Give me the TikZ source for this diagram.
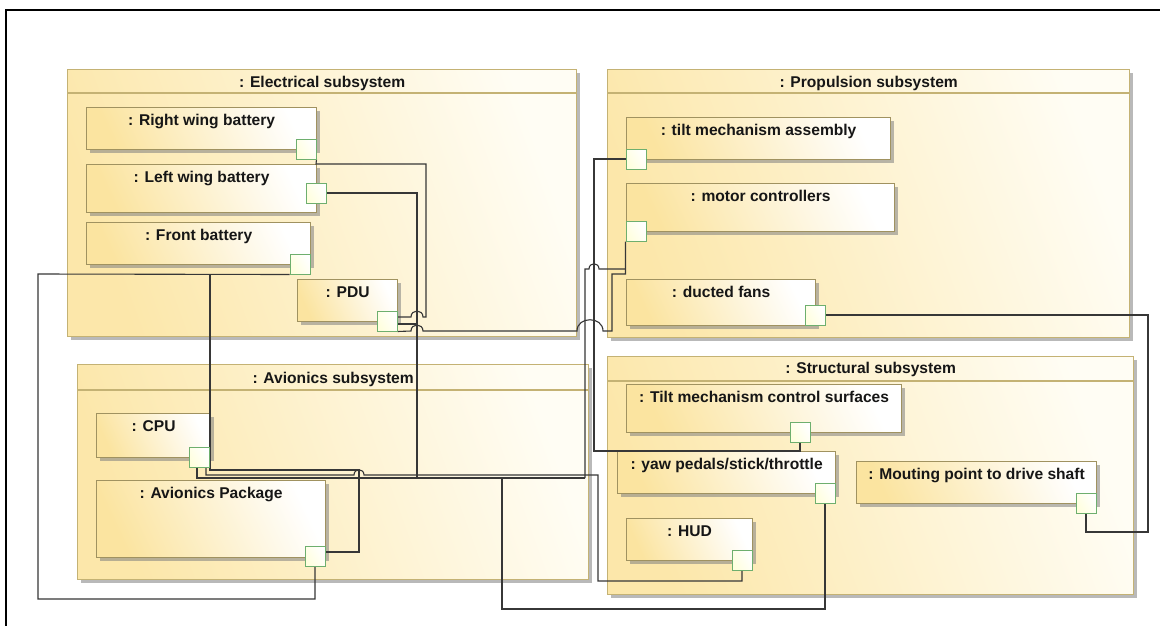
\documentclass[tikz,border=0pt]{standalone}
\usepackage{fontspec}
\setmainfont{Liberation Sans}
\usetikzlibrary{shadows}
\definecolor{subL}{RGB}{252,231,170}
\definecolor{subR}{RGB}{255,253,244}
\definecolor{partL}{RGB}{251,228,160}
\definecolor{partR}{RGB}{255,255,255}
\definecolor{bord}{RGB}{196,178,116}
\definecolor{pbord}{RGB}{160,146,96}
\definecolor{portB}{RGB}{110,175,110}
\definecolor{portF}{RGB}{255,255,222}
\definecolor{wirec}{RGB}{55,55,55}
\definecolor{txtc}{RGB}{22,22,22}
\pgfdeclarelayer{boxes}
\pgfdeclarelayer{wires}
\pgfsetlayers{boxes,wires,main}
\tikzset{
  subbox/.style={rectangle, inner sep=0pt, anchor=north west, draw=bord, line width=1.3pt,
    left color=subL, right color=subR, shading angle=110,
    drop shadow={shadow xshift=3pt, shadow yshift=-3pt, fill=black!50, opacity=0.55}},
  partbox/.style={rectangle, inner sep=0pt, anchor=north west, draw=pbord, line width=1.2pt,
    left color=partL, right color=partR, shading angle=115,
    drop shadow={shadow xshift=3pt, shadow yshift=-3pt, fill=black!50, opacity=0.55}},
  portbox/.style={rectangle, inner sep=0pt, draw=portB, line width=1pt,
    left color=portF, right color=white, shading angle=120, minimum size=20pt},
  wire/.style={draw=wirec, line width=1.1pt},
  lbl/.style={font=\bfseries\fontsize{15.6}{18}\selectfont, text=txtc, anchor=base, inner sep=0pt},
  hdr/.style={draw=bord, line width=1.2pt},
}
\begin{document}
\begin{tikzpicture}[x=1pt,y=-1pt]
\begin{pgfonlayer}{boxes}
\useasboundingbox (0,0) rectangle (1160,625);
\fill[white] (0,0) rectangle (1160,625);
\draw[line width=1.6pt, black] (6,700) -- (6,10) -- (1200,10);

% subsystems
\node[subbox, minimum width=509pt, minimum height=267pt] (elec) at (67,69) {};
\draw[hdr] ([yshift=-24pt]elec.north west) -- ([yshift=-24pt]elec.north east);
\node[lbl] (elect) at ([yshift=-18pt]elec.north) {: Electrical subsystem};

\node[subbox, minimum width=522pt, minimum height=268pt] (prop) at (607,69) {};
\draw[hdr] ([yshift=-24pt]prop.north west) -- ([yshift=-24pt]prop.north east);
\node[lbl] (propt) at ([yshift=-18pt]prop.north) {: Propulsion subsystem};

\node[subbox, minimum width=511pt, minimum height=215pt] (avio) at (77,364) {};
\draw[hdr] ([yshift=-26pt]avio.north west) -- ([yshift=-26pt]avio.north east);
\node[lbl] (aviot) at ([yshift=-19pt]avio.north) {: Avionics subsystem};

\node[subbox, minimum width=526pt, minimum height=238pt] (struc) at (607,356) {};
\draw[hdr] ([yshift=-25pt]struc.north west) -- ([yshift=-25pt]struc.north east);
\node[lbl] (struct) at ([yshift=-17pt]struc.north) {: Structural subsystem};

% parts
\node[partbox, minimum width=230pt, minimum height=42pt] (rwb) at (86,107) {};
\node[lbl] at ([yshift=-18pt]rwb.north) {: Right wing battery};
\node[partbox, minimum width=230pt, minimum height=48pt] (lwb) at (86,164) {};
\node[lbl] at ([yshift=-18pt]lwb.north) {: Left wing battery};
\node[partbox, minimum width=224pt, minimum height=42pt] (fb) at (86,222) {};
\node[lbl] at ([yshift=-18pt]fb.north) {: Front battery};
\node[partbox, minimum width=100pt, minimum height=42pt] (pdu) at (297,279) {};
\node[lbl] at ([yshift=-18pt]pdu.north) {: PDU};

\node[partbox, minimum width=264pt, minimum height=42pt] (tma) at (626,117) {};
\node[lbl] at ([yshift=-18pt]tma.north) {: tilt mechanism assembly};
\node[partbox, minimum width=268pt, minimum height=48pt] (mc) at (626,183) {};
\node[lbl] at ([yshift=-18pt]mc.north) {: motor controllers};
\node[partbox, minimum width=189pt, minimum height=46pt] (df) at (626,279) {};
\node[lbl] at ([yshift=-18pt]df.north) {: ducted fans};

\node[partbox, minimum width=275pt, minimum height=48pt] (tcs) at (626,384) {};
\node[lbl] at ([yshift=-18pt]tcs.north) {: Tilt mechanism control surfaces};
\node[partbox, minimum width=218pt, minimum height=42pt] (yaw) at (617,451) {};
\node[lbl] at ([yshift=-18pt]yaw.north) {: yaw pedals/stick/throttle};
\node[partbox, minimum width=126pt, minimum height=42pt] (hud) at (626,518) {};
\node[lbl] at ([yshift=-18pt]hud.north) {: HUD};
\node[partbox, minimum width=240pt, minimum height=42pt] (mp) at (856,461) {};
\node[lbl] at ([yshift=-18pt]mp.north) {: Mouting point to drive shaft};

\node[partbox, minimum width=114pt, minimum height=44pt] (cpu) at (96,413) {};
\node[lbl] at ([yshift=-18pt]cpu.north) {: CPU};
\node[partbox, minimum width=229pt, minimum height=77pt] (ap) at (96,480) {};
\node[lbl] at ([yshift=-18pt]ap.north) {: Avionics Package};
\end{pgfonlayer}

% ports (main layer, on top of wires)
\node[portbox] (rwbp) at (306,149) {};
\node[portbox] (lwbp) at (316,193) {};
\node[portbox] (fbp) at (300,264) {};
\node[portbox] (pdup) at (387,321) {};
\node[portbox] (tmap) at (636,159) {};
\node[portbox] (mcp) at (636,231) {};
\node[portbox] (dfp) at (815,315) {};
\node[portbox] (tcsp) at (800,432) {};
\node[portbox] (yawp) at (825,493) {};
\node[portbox] (hudp) at (742,560) {};
\node[portbox] (mpp) at (1086,503) {};
\node[portbox] (cpup) at (199,457) {};
\node[portbox] (app) at (315,556) {};

% wires
\begin{pgfonlayer}{wires}
\draw[wire] (rwbp.south east) -- (316,164) -- (426,164) -- (426,317) -- (423,317)
  .. controls (423,309) and (411,309) .. (411,317) -- (pdup.east |- 0,317);
\draw[wire] (lwbp.east) -- (417,193) -- (417,478);
\draw[wire] (pdup.east |- 0,324) -- (417,324);
\draw[wire] (pdup.south east) -- (411,331) .. controls (411,323) and (423,323) .. (423,331)
  -- (577,331) .. controls (577,316) and (603,316) .. (603,331) -- (612,331) -- (612,274)
  -- (mcp.west |- 0,274) -- (mcp.south west);
\draw[wire] (mcp.west |- 0,269) -- (599,269) .. controls (599,262) and (589,262) .. (589,269)
  -- (585,269) -- (585,478);
\draw[wire] (tmap.west) -- (594,159) -- (594,451) -- (800,451) -- (tcsp.south);
\draw[wire] (dfp.east) -- (1148,315) -- (1148,532) -- (1086,532) -- (mpp.south);
\draw[wire] (yawp.south) -- (825,609) -- (502,609) -- (502,478);
\draw[wire] (hudp.south) -- (742,581) -- (598,581) -- (598,475) -- (364,475)
  .. controls (364,468) and (354,468) .. (354,475) -- (206,475) -- (cpup.south -| 206,0);
\draw[wire] (fbp.south west) -- (38,274) -- (38,599) -- (app.south |- 0,599) -- (app.south);
\draw[wire] (210,274) -- (210,470) -- (359,470) -- (359,552) -- (app.east |- 0,552);
\draw[wire] (cpup.south -| 197,0) -- (197,478) -- (585,478);
\end{pgfonlayer}
\end{tikzpicture}
\end{document}
